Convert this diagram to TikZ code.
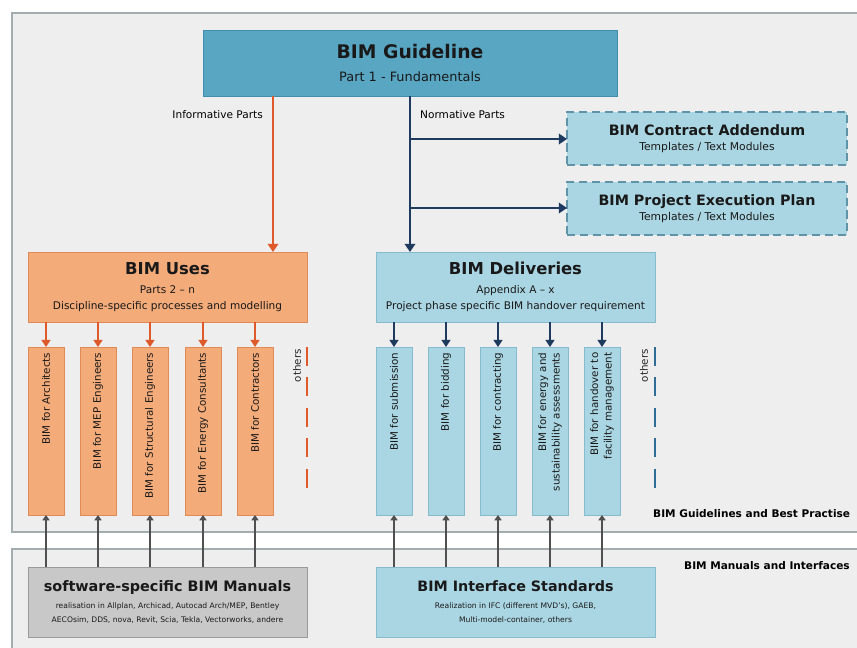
\documentclass[tikz,border=0pt]{standalone}
\usepackage{fontspec}
\setmainfont{DejaVu Sans}
\usetikzlibrary{arrows.meta,positioning}

\definecolor{guideblue}{HTML}{58A6C2}
\definecolor{guideline}{HTML}{3F8EAD}
\definecolor{usesorange}{HTML}{F4AB7A}
\definecolor{usesline}{HTML}{E08A55}
\definecolor{delivblue}{HTML}{AAD6E3}
\definecolor{delivline}{HTML}{85BBCC}
\definecolor{addline}{HTML}{5E93A8}
\definecolor{arrowred}{HTML}{DF5A2B}
\definecolor{arrownavy}{HTML}{1E3A5F}
\definecolor{arrowgray}{HTML}{505050}
\definecolor{dashblue}{HTML}{2E6C95}
\definecolor{panelgray}{HTML}{EEEEEE}
\definecolor{panelline}{HTML}{A3ADAD}
\definecolor{manualgray}{HTML}{C8C8C8}
\definecolor{manualline}{HTML}{9A9A9A}

\begin{document}
\begin{tikzpicture}[x=0.03cm, y=-0.03cm]
% styles
\tikzset{panel/.style={fill=panelgray,draw=panelline,line width=1pt},
  box/.style={rectangle,inner sep=0pt,outer sep=0pt,align=center,line width=0.7pt,text=black!90},
  guidebox/.style={box,fill=guideblue,draw=guideline,minimum width=12.42cm,minimum height=1.98cm},
  addbox/.style={box,fill=delivblue,draw=addline,line width=1pt,dash pattern=on 7pt off 4pt,minimum width=8.4cm,minimum height=1.59cm},
  usesbox/.style={box,fill=usesorange,draw=usesline,minimum width=8.37cm,minimum height=2.1cm},
  delivbox/.style={box,fill=delivblue,draw=delivline,minimum width=8.37cm,minimum height=2.1cm},
  manualbox/.style={box,fill=manualgray,draw=manualline,minimum width=8.37cm,minimum height=2.1cm},
  tallbox/.style={rectangle,rotate=90,outer sep=0pt,inner xsep=0.17cm,inner ysep=0pt,line width=0.7pt,
    minimum width=5.04cm,minimum height=1.08cm,text width=4.7cm,align=right,
    font=\fontsize{8.8}{11.5}\selectfont,text=black!90},
  usestall/.style={tallbox,fill=usesorange,draw=usesline},
  delivtall/.style={tallbox,fill=delivblue,draw=delivline},
  othertext/.style={rotate=90,anchor=east,inner sep=0pt,font=\fontsize{8.8}{11}\selectfont},
  lbl/.style={inner sep=0pt,font=\fontsize{9}{11}\selectfont},
  sidelbl/.style={inner sep=0pt,anchor=west,font=\fontsize{9}{11}\selectfont\bfseries},
  redarrow/.style={draw=arrowred,line width=2.4pt,arrows={-Triangle[width=9pt,length=7pt]}},
  navyarrow/.style={draw=arrownavy,line width=2.4pt,arrows={-Triangle[width=9pt,length=7pt]}},
  redsmall/.style={draw=arrowred,line width=1.8pt,arrows={-Triangle[width=7.5pt,length=6pt]}},
  navysmall/.style={draw=arrownavy,line width=1.8pt,arrows={-Triangle[width=7.5pt,length=6pt]}},
  grayarrow/.style={draw=arrowgray,line width=1.6pt,arrows={-Triangle[width=6pt,length=4.5pt]}},
  reddash/.style={draw=arrowred,line width=2.2pt,dash pattern=on 16pt off 10pt},
  bluedash/.style={draw=dashblue,line width=2.2pt,dash pattern=on 16pt off 10pt}}

% canvas
\useasboundingbox (0,0) rectangle (857,648);
\clip (0,0) rectangle (857,648);
\fill[white] (0,0) rectangle (857,648);
\draw[panel] (12,13) rectangle (880,532);
\draw[panel] (12,549) rectangle (880,680);

% coordinates
\coordinate (oX) at (273,0);
\coordinate (nX) at (410,0);
\coordinate (nB1) at (410,139);
\coordinate (nB2) at (410,208);
\coordinate (dU1) at (307,347);
\coordinate (dU2) at (307,494);
\coordinate (dD1) at (655,347);
\coordinate (dD2) at (655,494);

% top row
\node[guidebox] (guide) at (410,63)
  {{\fontsize{16}{19}\selectfont\bfseries BIM Guideline}\\[7pt]{\fontsize{11}{13}\selectfont Part 1 - Fundamentals}};
\node[addbox] (contract) at (707,138.5)
  {{\fontsize{12.2}{14}\selectfont\bfseries BIM Contract Addendum}\\[1pt]{\fontsize{9.2}{11}\selectfont Templates / Text Modules}};
\node[addbox] (pep) at (707,208.5)
  {{\fontsize{12.2}{14}\selectfont\bfseries BIM Project Execution Plan}\\[1pt]{\fontsize{9.2}{11}\selectfont Templates / Text Modules}};
\node[lbl,anchor=east] (inform) at (263,115) {Informative Parts};
\node[lbl,anchor=west] (norm) at (420,115) {Normative Parts};

% middle row
\node[usesbox] (uses) at (167.5,287)
  {{\fontsize{14}{17}\selectfont\bfseries BIM Uses}\\[4pt]{\fontsize{9}{11}\selectfont Parts 2 -- n}\\[1.5pt]{\fontsize{9}{11}\selectfont Discipline-specific processes and modelling}};
\node[delivbox] (deliv) at (515.5,287)
  {{\fontsize{14}{17}\selectfont\bfseries BIM Deliveries}\\[4pt]{\fontsize{9}{11}\selectfont Appendix A -- x}\\[1.5pt]{\fontsize{9}{11}\selectfont Project phase specific BIM handover requirement}};

% uses columns
\node[usestall] (uA) at (46,431) {BIM for Architects};
\node[usestall] (uB) at (98,431) {BIM for MEP Engineers};
\node[usestall] (uC) at (150,431) {BIM for Structural Engineers};
\node[usestall] (uD) at (203,431) {BIM for Energy Consultants};
\node[usestall] (uE) at (255,431) {BIM for Contractors};
\node[othertext,text=black!85] (othU) at (297,349) {others};

% deliveries columns
\node[delivtall] (dA) at (394,431) {BIM for submission};
\node[delivtall] (dB) at (446,431) {BIM for bidding};
\node[delivtall] (dC) at (498,431) {BIM for contracting};
\node[delivtall] (dD) at (550,431) {BIM for energy and\\sustainability assessments};
\node[delivtall] (dE) at (602,431) {BIM for handover to\\facility management};
\node[othertext,text=black!85] (othD) at (644,349) {others};

% bottom row
\node[manualbox] (manual) at (167.5,602)
  {{\fontsize{12.3}{15}\selectfont\bfseries software-specific BIM Manuals}\\[2pt]{\fontsize{6.5}{9.4}\selectfont realisation in Allplan, Archicad, Autocad Arch/MEP, Bentley}\\{\fontsize{6.5}{9.4}\selectfont AECOsim, DDS, nova, Revit, Scia, Tekla, Vectorworks, andere}};
\node[delivbox] (iface) at (515.5,602)
  {{\fontsize{12.2}{15}\selectfont\bfseries BIM Interface Standards}\\[2pt]{\fontsize{6.5}{9.4}\selectfont Realization in IFC (different MVD's), GAEB,}\\{\fontsize{6.5}{9.4}\selectfont Multi-model-container, others}};

% side labels
\node[sidelbl] (guidelbl) at (653,514) {BIM Guidelines and Best Practise};
\node[sidelbl] (manuallbl) at (684,566) {BIM Manuals and Interfaces};

% main arrows
\draw[redarrow] (guide.south -| oX) -- (uses.north -| oX);
\draw[navyarrow] (guide.south -| nX) -- (deliv.north -| nX);
\draw[navyarrow] (nB1) -- (contract.west |- nB1);
\draw[navyarrow] (nB2) -- (pep.west |- nB2);

% small arrows
\draw[redsmall] (uses.south -| uA) -- (uA.east);
\draw[redsmall] (uses.south -| uB) -- (uB.east);
\draw[redsmall] (uses.south -| uC) -- (uC.east);
\draw[redsmall] (uses.south -| uD) -- (uD.east);
\draw[redsmall] (uses.south -| uE) -- (uE.east);
\draw[navysmall] (deliv.south -| dA) -- (dA.east);
\draw[navysmall] (deliv.south -| dB) -- (dB.east);
\draw[navysmall] (deliv.south -| dC) -- (dC.east);
\draw[navysmall] (deliv.south -| dD) -- (dD.east);
\draw[navysmall] (deliv.south -| dE) -- (dE.east);

% gray arrows
\draw[grayarrow] (manual.north -| uA) -- (uA.west);
\draw[grayarrow] (manual.north -| uB) -- (uB.west);
\draw[grayarrow] (manual.north -| uC) -- (uC.west);
\draw[grayarrow] (manual.north -| uD) -- (uD.west);
\draw[grayarrow] (manual.north -| uE) -- (uE.west);
\draw[grayarrow] (iface.north -| dA) -- (dA.west);
\draw[grayarrow] (iface.north -| dB) -- (dB.west);
\draw[grayarrow] (iface.north -| dC) -- (dC.west);
\draw[grayarrow] (iface.north -| dD) -- (dD.west);
\draw[grayarrow] (iface.north -| dE) -- (dE.west);

% others
\draw[reddash] (dU1) -- (dU2);
\draw[bluedash] (dD1) -- (dD2);
\end{tikzpicture}
\end{document}
